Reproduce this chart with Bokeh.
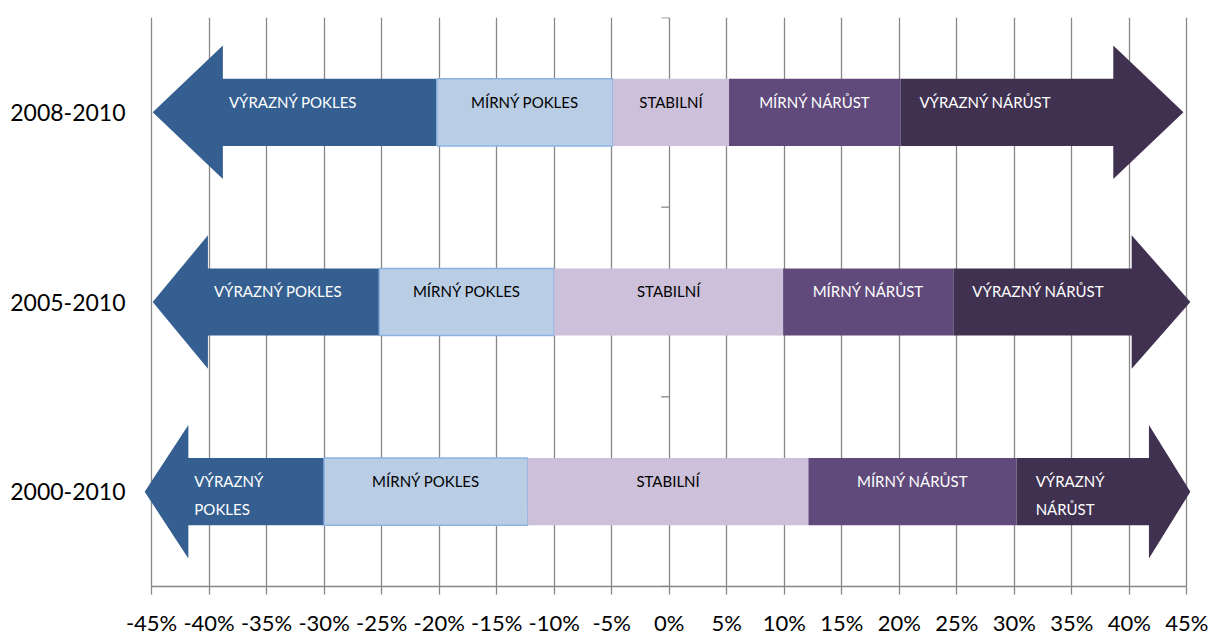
from bokeh.plotting import figure
from bokeh.models import Range1d, FixedTicker, PrintfTickFormatter
from bokeh.core.properties import value
from bokeh.embed import file_html
from bokeh.resources import INLINE

# ---------------- data ----------------
periods = ["2008-2010", "2005-2010", "2000-2010"]
categories = ["VÝRAZNÝ POKLES", "MÍRNÝ POKLES", "STABILNÍ", "MÍRNÝ NÁRŮST", "VÝRAZNÝ NÁRŮST"]
# label text per period (row 2000-2010 wraps the outer labels)
labels_2008 = ["VÝRAZNÝ POKLES", "MÍRNÝ POKLES", "STABILNÍ", "MÍRNÝ NÁRŮST", "VÝRAZNÝ NÁRŮST"]
labels_2005 = ["VÝRAZNÝ POKLES", "MÍRNÝ POKLES", "STABILNÍ", "MÍRNÝ NÁRŮST", "VÝRAZNÝ NÁRŮST"]
labels_2000 = ["VÝRAZNÝ\nPOKLES", "MÍRNÝ POKLES", "STABILNÍ", "MÍRNÝ NÁRŮST", "VÝRAZNÝ\nNÁRŮST"]
# category boundaries (% change)
strong_decline_end = [-20.2, -25.2, -30.0]
mild_decline_end = [-4.9, -10.0, -12.3]
stable_end = [5.2, 9.9, 12.1]
mild_growth_end = [20.1, 24.7, 30.2]
# arrow ends (% on the axis)
left_tip = [-44.9, -44.9, -45.6]
left_head_base = [-38.8, -40.1, -41.8]
right_head_base = [38.6, 40.2, 41.7]
right_tip = [44.7, 45.3, 45.3]
x_ticks = [-45, -40, -35, -30, -25, -20, -15, -10, -5, 0, 5, 10, 15, 20, 25, 30, 35, 40, 45]

# ---------------- style ----------------
C_STRONG_DEC = "#365F91"
C_MILD_DEC = "#B9CDE5"
C_STABLE = "#CCC0DA"
C_MILD_GROW = "#604A7B"
C_STRONG_GROW = "#403151"
GRID = "#878787"
FONT = "Lato"
BAR_H = 0.177   # half bar thickness (row units)
HEAD_H = 0.352  # half arrow-head height

n = len(periods)
row_y = [n - i - 0.5 for i in range(n)]
row_labels = [labels_2008, labels_2005, labels_2000]

p = figure(width=1213, height=638, output_backend="svg", toolbar_location=None,
           x_range=Range1d(-45.7, 45.4), y_range=Range1d(0, 3),
           min_border_left=143, min_border_right=22, min_border_top=17, min_border_bottom=45)
p.outline_line_color = None
p.background_fill_color = "white"
p.border_fill_color = "white"

# grid
p.ygrid.grid_line_color = None
p.xgrid.ticker = FixedTicker(ticks=x_ticks)
p.xgrid.grid_line_color = GRID
p.xgrid.grid_line_width = 1.3

# x axis
p.xaxis.ticker = FixedTicker(ticks=x_ticks)
p.xaxis.formatter = PrintfTickFormatter(format="%d%%")
p.xaxis.bounds = (x_ticks[0], x_ticks[-1])
p.xaxis.axis_line_color = GRID
p.xaxis.axis_line_width = 1.3
p.xaxis.major_tick_line_color = GRID
p.xaxis.major_tick_line_width = 1.3
p.xaxis.major_tick_out = 8
p.xaxis.major_tick_in = 0
p.xaxis.minor_tick_line_color = None
p.xaxis.major_label_standoff = 14
p.xaxis.major_label_text_font = FONT
p.xaxis.major_label_text_font_size = "22px"
p.xaxis.major_label_text_color = "black"

# y axis (category labels)
p.yaxis.ticker = FixedTicker(ticks=row_y)
p.yaxis.major_label_overrides = {y: lab for y, lab in zip(row_y, periods)}
p.yaxis.axis_line_color = None
p.yaxis.major_tick_line_color = None
p.yaxis.minor_tick_line_color = None
p.yaxis.major_label_standoff = 12
p.yaxis.major_label_text_font = FONT
p.yaxis.major_label_text_font_size = "23px"
p.yaxis.major_label_text_color = "black"

# vertical category axis at 0 with small ticks at row boundaries
bounds_y = [0, 1, 2, 3]
p.segment(x0=[-0.7] * len(bounds_y), x1=[0] * len(bounds_y), y0=bounds_y, y1=bounds_y,
          line_color=GRID, line_width=1.3)

# left arrows (strong decline)
lxs, lys = [], []
for i, c in enumerate(row_y):
    lxs.append([left_tip[i], left_head_base[i], left_head_base[i], strong_decline_end[i],
                strong_decline_end[i], left_head_base[i], left_head_base[i]])
    lys.append([c, c + HEAD_H, c + BAR_H, c + BAR_H, c - BAR_H, c - BAR_H, c - HEAD_H])
p.patches(lxs, lys, fill_color=C_STRONG_DEC, line_color=None)

# middle segments
top = [c + BAR_H for c in row_y]
bot = [c - BAR_H for c in row_y]
p.quad(left=strong_decline_end, right=mild_decline_end, top=top, bottom=bot,
       fill_color=C_MILD_DEC, line_color="#8DB3E2", line_width=1.5)
p.quad(left=mild_decline_end, right=stable_end, top=top, bottom=bot,
       fill_color=C_STABLE, line_color=None)
p.quad(left=stable_end, right=mild_growth_end, top=top, bottom=bot,
       fill_color=C_MILD_GROW, line_color=None)

# right arrows (strong growth)
rxs, rys = [], []
for i, c in enumerate(row_y):
    rxs.append([mild_growth_end[i], right_head_base[i], right_head_base[i], right_tip[i],
                right_head_base[i], right_head_base[i], mild_growth_end[i]])
    rys.append([c + BAR_H, c + BAR_H, c + HEAD_H, c, c - HEAD_H, c - BAR_H, c - BAR_H])
p.patches(rxs, rys, fill_color=C_STRONG_GROW, line_color=None)

# labels
LINE_GAP = 28
FIRST = 23
for i, c in enumerate(row_y):
    labs = row_labels[i]
    specs = [
        (left_head_base[i], 6, "left", "white"),
        ((strong_decline_end[i] + mild_decline_end[i]) / 2, 0, "center", "black"),
        ((mild_decline_end[i] + stable_end[i]) / 2, 0, "center", "black"),
        ((stable_end[i] + mild_growth_end[i]) / 2, 0, "center", "white"),
        (mild_growth_end[i], 19, "left", "white"),
    ]
    for lab, (x, xo, align, col) in zip(labs, specs):
        for k, line in enumerate(lab.split("\n")):
            p.text(x=[x], y=[c + BAR_H], text=[line], x_offset=xo, y_offset=FIRST + k * LINE_GAP,
                   text_align=align, text_baseline="middle", text_color=col,
                   text_font=value(FONT), text_font_size="15px")

open("out.html", "w").write(file_html(p, INLINE))
